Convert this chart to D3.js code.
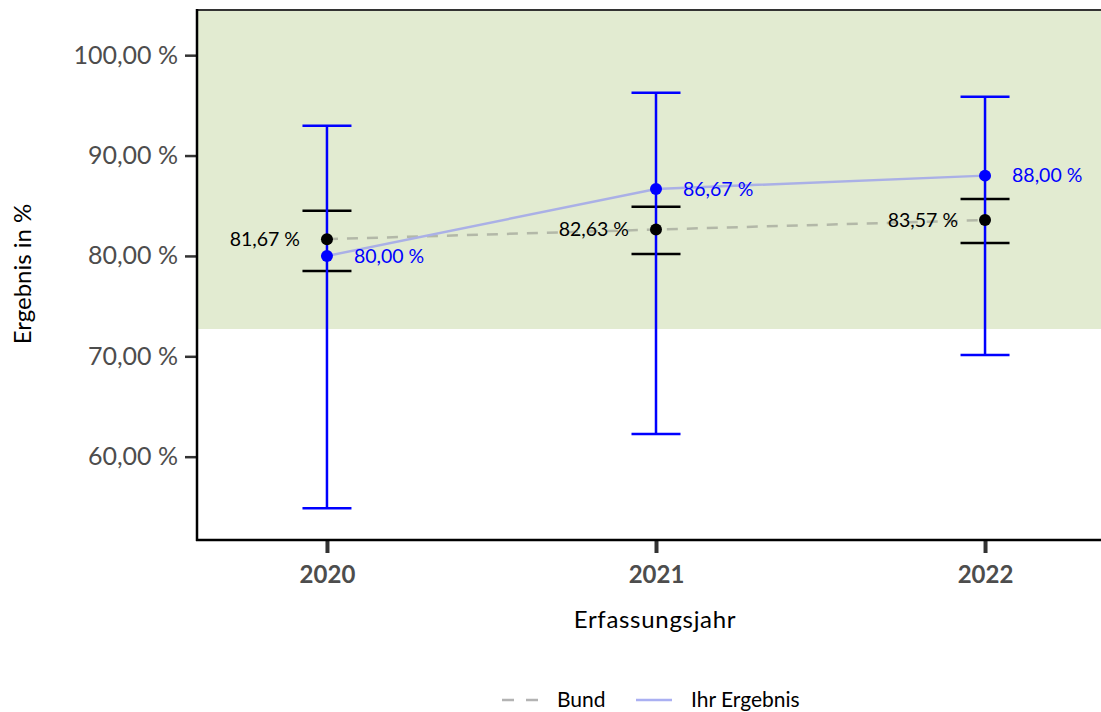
<!DOCTYPE html>
<html><head><meta charset="utf-8">
<script src="https://cdn.jsdelivr.net/npm/d3@7"></script>
<style>body{margin:0;background:#fff}svg{display:block}</style>
</head><body><svg id="c" width="1101" height="712"></svg>
<script>
const years = [2020, 2021, 2022];
const bund = [81.67, 82.63, 83.57];
const bundLo = [78.5, 80.2, 81.3];
const bundHi = [84.49, 84.89, 85.68];
const ihr = [80.00, 86.67, 88.00];
const ihrLo = [54.87, 62.25, 70.13];
const ihrHi = [92.96, 96.25, 95.85];
const yTicks = [60, 70, 80, 90, 100];
const refLower = 72.72;
const fmt = v => d3.format(".2f")(v).replace(".", ",") + " %";

const svg = d3.select("#c");
const font = "Lato, 'Open Sans', sans-serif";
const x = d3.scaleLinear().domain([2019.605, 2022.395]).range([197, 1115]);
const y = d3.scaleLinear().domain([51.7, 104.5]).range([540, 10]);
const yTop = y.range()[1], yBot = y.range()[0];

// reference band
svg.append("rect").attr("x", 197).attr("y", yTop).attr("width", 1101 - 197)
  .attr("height", y(refLower) - yTop).attr("fill", "#e2ebd1");

// top border
svg.append("line").attr("x1", 197).attr("x2", 1101).attr("y1", yTop).attr("y2", yTop)
  .attr("stroke", "#333").attr("stroke-width", 2);

// axes
const yAxis = svg.append("g").attr("transform", "translate(197,0)")
  .call(d3.axisLeft(y).tickValues(yTicks).tickSize(12).tickPadding(7).tickFormat(fmt));
yAxis.select(".domain").remove();
yAxis.selectAll(".tick line").attr("stroke", "#333").attr("stroke-width", 2.5);
yAxis.selectAll(".tick text").attr("fill", "#4d4d4d").style("font-family", font).style("font-size", "25px");

const xAxis = svg.append("g").attr("transform", `translate(0,${yBot})`)
  .call(d3.axisBottom(x).tickValues(years).tickSize(13).tickPadding(13).tickFormat(d3.format("d")));
xAxis.select(".domain").remove();
xAxis.selectAll(".tick line").attr("stroke", "#333").attr("stroke-width", 4);
xAxis.selectAll(".tick text").attr("fill", "#4d4d4d").style("font-family", font)
  .style("font-size", "24px").style("font-weight", "bold");

svg.append("line").attr("x1", 197).attr("x2", 197).attr("y1", yTop - 1).attr("y2", yBot + 1)
  .attr("stroke", "#000").attr("stroke-width", 2.5);
svg.append("line").attr("x1", 196).attr("x2", 1101).attr("y1", yBot).attr("y2", yBot)
  .attr("stroke", "#000").attr("stroke-width", 2.5);

// axis titles
svg.append("text").attr("x", 655).attr("y", 628).attr("text-anchor", "middle")
  .style("font-family", font).style("font-size", "24px").style("letter-spacing", "0.7px")
  .attr("fill", "#000").text("Erfassungsjahr");
svg.append("text").attr("transform", "translate(31,274) rotate(-90)").attr("text-anchor", "middle")
  .style("font-family", font).style("font-size", "24px").attr("fill", "#000").text("Ergebnis in %");

const cap = 24.5;
// lines
const line = d3.line().x((d, i) => x(years[i])).y(d => y(d));
svg.append("path").datum(bund).attr("d", line).attr("fill", "none")
  .attr("stroke", "#b3b8a8").attr("stroke-width", 2.5).attr("stroke-dasharray", "11,9");
svg.append("path").datum(ihr).attr("d", line).attr("fill", "none")
  .attr("stroke", "#aab0e6").attr("stroke-width", 2.5);

// black CIs
years.forEach((yr, i) => {
  const g = svg.append("g");
  [bundLo[i], bundHi[i]].forEach(v => g.append("line").attr("x1", x(yr) - cap).attr("x2", x(yr) + cap)
    .attr("y1", y(v)).attr("y2", y(v)).attr("stroke", "#000").attr("stroke-width", 2.5));
});
// blue error bars
years.forEach((yr, i) => {
  const g = svg.append("g");
  g.append("line").attr("x1", x(yr)).attr("x2", x(yr)).attr("y1", y(ihrLo[i])).attr("y2", y(ihrHi[i]))
    .attr("stroke", "#0000ff").attr("stroke-width", 2.5);
  [ihrLo[i], ihrHi[i]].forEach(v => g.append("line").attr("x1", x(yr) - cap).attr("x2", x(yr) + cap)
    .attr("y1", y(v)).attr("y2", y(v)).attr("stroke", "#0000ff").attr("stroke-width", 2.5));
});
// points
svg.selectAll(".pb").data(bund).join("circle").attr("cx", (d, i) => x(years[i])).attr("cy", d => y(d))
  .attr("r", 6).attr("fill", "#000");
svg.selectAll(".pi").data(ihr).join("circle").attr("cx", (d, i) => x(years[i])).attr("cy", d => y(d))
  .attr("r", 6).attr("fill", "#0000ff");
// labels
svg.selectAll(".lb").data(bund).join("text").attr("x", (d, i) => x(years[i]) - 27).attr("y", d => y(d))
  .attr("dy", "0.35em").attr("text-anchor", "end").style("font-family", font).style("font-size", "19.5px")
  .attr("fill", "#000").text(fmt);
svg.selectAll(".li").data(ihr).join("text").attr("x", (d, i) => x(years[i]) + 27).attr("y", d => y(d))
  .attr("dy", "0.35em").attr("text-anchor", "start").style("font-family", font).style("font-size", "19.5px")
  .attr("fill", "#0000ff").text(fmt);

// legend
const ly = 700;
svg.append("line").attr("x1", 502).attr("x2", 538).attr("y1", ly).attr("y2", ly)
  .attr("stroke", "#b3b3b3").attr("stroke-width", 2.5).attr("stroke-dasharray", "12,12");
svg.append("text").attr("x", 557).attr("y", ly).attr("dy", "0.35em").style("font-family", font)
  .style("font-size", "21px").text("Bund");
svg.append("line").attr("x1", 636).attr("x2", 672).attr("y1", ly).attr("y2", ly)
  .attr("stroke", "#aab0f2").attr("stroke-width", 2.5);
svg.append("text").attr("x", 691).attr("y", ly).attr("dy", "0.35em").style("font-family", font)
  .style("font-size", "21px").text("Ihr Ergebnis");
</script></body></html>
